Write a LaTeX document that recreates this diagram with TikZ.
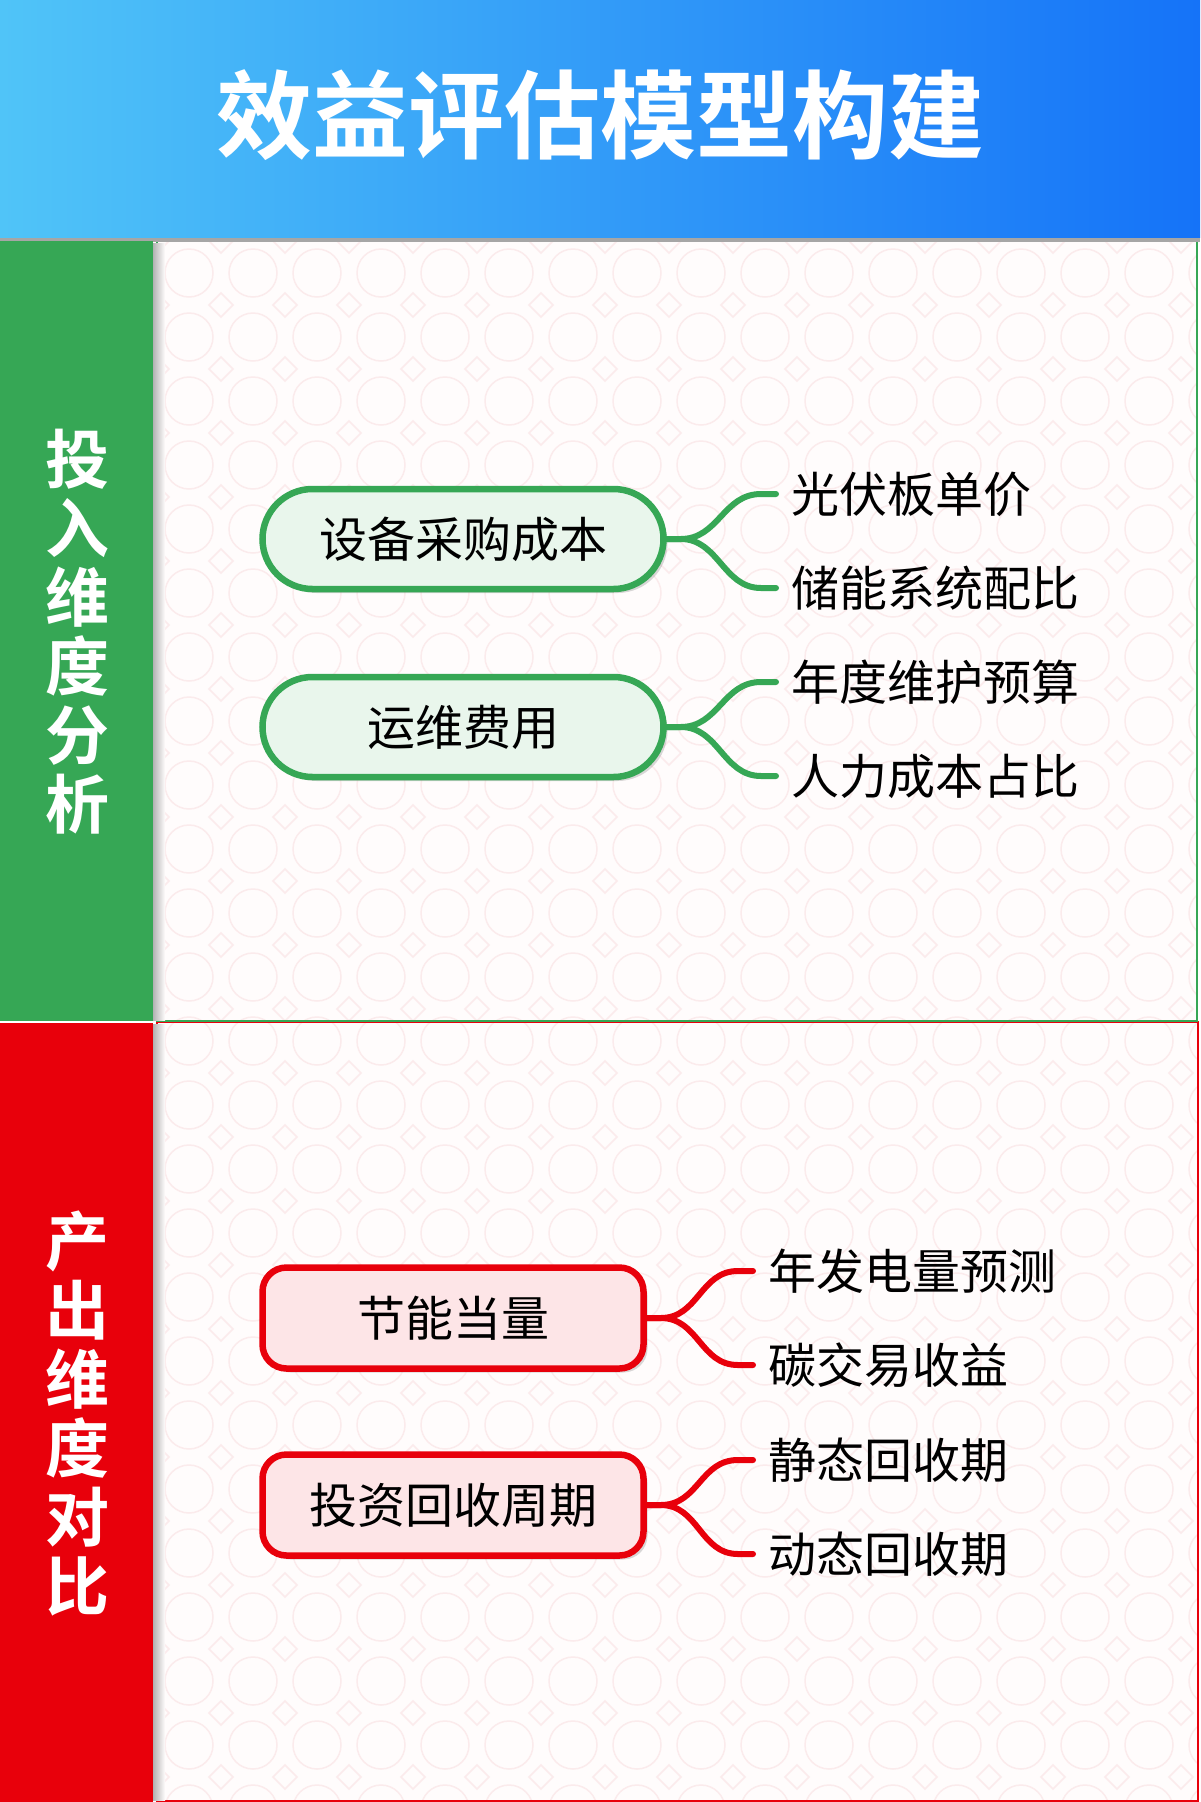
\documentclass[tikz,border=0pt]{standalone}
\usepackage{fontspec}
\setmainfont{Noto Sans CJK SC}[BoldFont={Noto Sans CJK SC Bold}]
\usetikzlibrary{shadows,positioning}

\definecolor{titleL}{HTML}{50C4F8}
\definecolor{titleR}{HTML}{1573F8}
\definecolor{inGreen}{HTML}{36A755}
\definecolor{inFill}{HTML}{E9F6EC}
\definecolor{outRed}{HTML}{E8000B}
\definecolor{outFill}{HTML}{FDE5E7}
\definecolor{paper}{HTML}{FFFCFC}
\definecolor{lattice}{HTML}{FBEBEC}

\begin{document}
\begin{tikzpicture}[x=1pt,y=-1pt,
    pill/.style={draw=inGreen, line width=6.5pt, fill=inFill, rounded corners=50pt,
      minimum width=401pt, minimum height=100pt, font=\fontsize{48}{50}\selectfont,
      drop shadow={opacity=.3, shadow xshift=4pt, shadow yshift=-4pt}},
    redbox/.style={draw=outRed, line width=6.5pt, fill=outFill, rounded corners=24pt,
      minimum width=381pt, minimum height=101pt, font=\fontsize{48}{50}\selectfont,
      drop shadow={opacity=.3, shadow xshift=4pt, shadow yshift=-4pt}},
    leaf/.style={anchor=west, inner sep=0pt, font=\fontsize{48}{50}\selectfont},
    sidelabel/.style={text=white, align=center, font=\bfseries\fontsize{64}{69}\selectfont},
    twigG/.style={draw=inGreen, line width=6pt, line cap=round},
    twigR/.style={draw=outRed, line width=6pt, line cap=round}]

    \useasboundingbox (0,0) rectangle (1200,1802);

    % Panels
    \fill[paper] (157,241) rectangle (1197,1802);
    \begin{scope}
        \clip (157,241) rectangle (1197,1802);
        \foreach \i in {0,...,16}
            \foreach \j in {0,...,24} {
                \draw[lattice, line width=1.5pt] ({157+\i*64+32},{241+\j*64+32}) circle (24);
                \draw[lattice, line width=1.5pt] ({157+\i*64},{241+\j*64-12}) -- ++(12,12) -- ++(-12,12) -- ++(-12,-12) -- cycle;
            }
    \end{scope}
    \draw[outRed, line width=2pt] (157,1022) rectangle (1198,1801);
    \draw[inGreen, line width=2.5pt] (157,241) rectangle (1197,1021);

    % Title
    \fill[black!35] (0,234) rectangle (1200,242);
    \shade[left color=titleL, right color=titleR] (0,0) rectangle (1200,237);
    \node[text=white, font=\bfseries\fontsize{96}{100}\selectfont] (title) at (600,115) {效益评估模型构建};

    % Side bars
    \fill[inGreen] (0,241) rectangle (153,1021);
    \fill[outRed] (0,1023) rectangle (153,1802);
    \shade[left color=black!30, right color=paper] (153,243) rectangle (165,1020);
    \shade[left color=black!30, right color=paper] (153,1024) rectangle (165,1800);
    \node[sidelabel] (inLabel) at (77,632) {投\\入\\维\\度\\分\\析};
    \node[sidelabel] (outLabel) at (77,1413) {产\\出\\维\\度\\对\\比};

    % Input side
    \node[pill] (cost) at (463,539) {设备采购成本};
    \node[pill] (upkeep) at (463,727) {运维费用};
    \node[leaf] (panel) at (791,494) {光伏板单价};
    \node[leaf] (storage) at (791,588) {储能系统配比};
    \node[leaf] (budget) at (791,682) {年度维护预算};
    \node[leaf] (labour) at (791,776) {人力成本占比};

    \foreach \from/\to in {cost/panel, cost/storage, upkeep/budget, upkeep/labour}
        \draw[twigG] (\from.east) -- ++(14,0) .. controls +(38,0) and +(-38,0) .. ([xshift=-30pt]\to.west) -- ([xshift=-15pt]\to.west);

    % Output side
    \node[redbox] (saving) at (453,1318) {节能当量};
    \node[redbox] (payback) at (453,1505) {投资回收周期};
    \node[leaf] (yield) at (768,1271) {年发电量预测};
    \node[leaf] (carbon) at (768,1365) {碳交易收益};
    \node[leaf] (static) at (768,1460) {静态回收期};
    \node[leaf] (dynamic) at (768,1554) {动态回收期};

    \foreach \from/\to in {saving/yield, saving/carbon, payback/static, payback/dynamic}
        \draw[twigR] (\from.east) -- ++(14,0) .. controls +(38,0) and +(-38,0) .. ([xshift=-30pt]\to.west) -- ([xshift=-15pt]\to.west);

\end{tikzpicture}
\end{document}
